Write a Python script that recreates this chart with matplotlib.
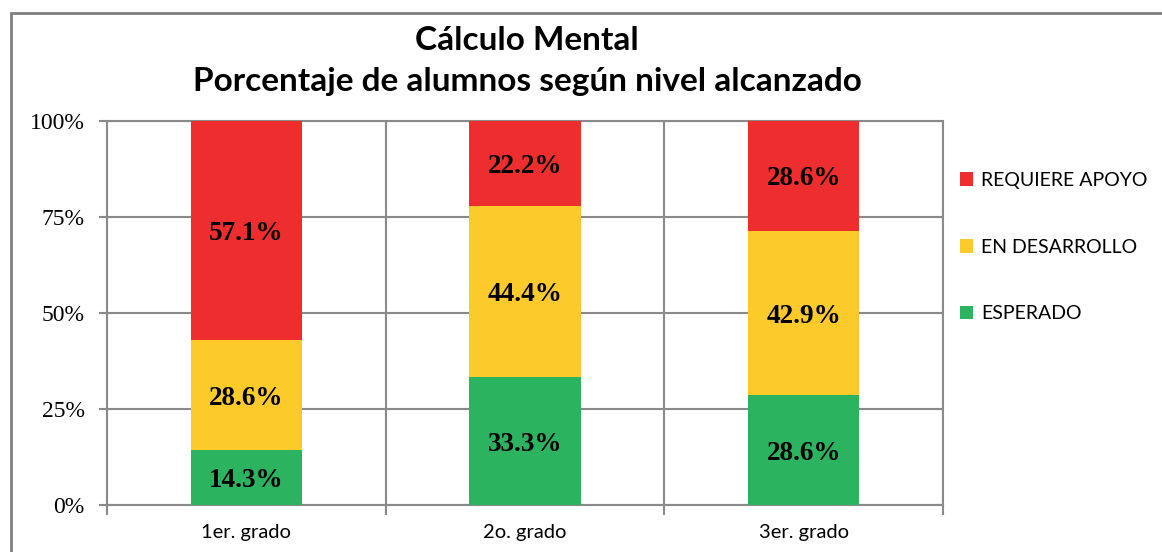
import matplotlib
matplotlib.use("Agg")
import matplotlib.pyplot as plt
from matplotlib.patches import Rectangle
import numpy as np

grados = ["1er. grado", "2o. grado", "3er. grado"]
esperado = [14.3, 33.3, 28.6]
desarrollo = [28.6, 44.4, 42.9]
requiere = [57.1, 22.2, 28.6]
series_names = ["ESPERADO", "EN DESARROLLO", "REQUIERE APOYO"]
colors = ["#2BB35F", "#FCCB2B", "#ED2D2E"]
ytick_labels = ["0%", "25%", "50%", "75%", "100%"]

sans = ["Lato", "DejaVu Sans"]
serif = ["Liberation Serif", "DejaVu Serif"]
grid_color = "#8a8a8a"

fig = plt.figure(figsize=(11.62, 5.52), dpi=100)
ax = fig.add_axes([0.0921, 0.0851, 0.7194, 0.6957])

data = np.array([esperado, desarrollo, requiere])
totals = data.sum(axis=0)
frac = data / totals * 100

x = np.arange(len(grados))
width = 0.4
bottom = np.zeros(len(grados))
for i in range(3):
    bars = ax.bar(x, frac[i], width, bottom=bottom, color=colors[i],
                  label=series_names[i], zorder=3)
    for j, b in enumerate(bars):
        ax.text(b.get_x() + b.get_width() / 2, bottom[j] + frac[i][j] / 2,
                "%.1f%%" % data[i][j], ha="center", va="center_baseline",
                fontsize=19.5, fontweight="bold", family=serif, zorder=4)
    bottom += frac[i]

ax.set_xlim(-0.5, 2.5)
ax.set_ylim(0, 100)
ax.set_yticks([0, 25, 50, 75, 100])
ax.set_yticklabels(ytick_labels, family=serif, fontsize=17)
ax.set_xticks(x)
ax.set_xticklabels(grados, family=sans, fontsize=14.5)
ax.set_xticks([-0.5, 0.5, 1.5, 2.5], minor=True)
ax.tick_params(axis="x", which="major", length=0, pad=14)
ax.tick_params(axis="x", which="minor", length=7, width=1.5, color=grid_color)
ax.tick_params(axis="y", length=6, width=1.5, color=grid_color, pad=10)

ax.grid(axis="y", which="major", color=grid_color, linewidth=1.5, zorder=0)
ax.grid(axis="x", which="minor", color=grid_color, linewidth=1.5, zorder=0)
for s in ax.spines.values():
    s.set_color(grid_color)
    s.set_linewidth(1.5)

handles, labels = ax.get_legend_handles_labels()
leg = fig.legend(handles[::-1], labels[::-1], loc="upper left",
                 bbox_to_anchor=(0.811, 0.72), frameon=False,
                 prop={"family": sans, "size": 14}, handlelength=0.7,
                 handleheight=0.7, handletextpad=0.4, labelspacing=2.55)

fig.text(0.4535, 0.927, "Cálculo Mental", ha="center", va="center",
         fontsize=24, fontweight="bold", family=sans)
fig.text(0.4535, 0.853, "Porcentaje de alumnos según nivel alcanzado",
         ha="center", va="center", fontsize=24, fontweight="bold", family=sans)

fig.patches.append(Rectangle((11 / 1162, -0.2), 1.2, 1.2 - 13 / 552,
                             transform=fig.transFigure, fill=False,
                             edgecolor="#808080", linewidth=2))

fig.savefig("out.png", dpi=100)
